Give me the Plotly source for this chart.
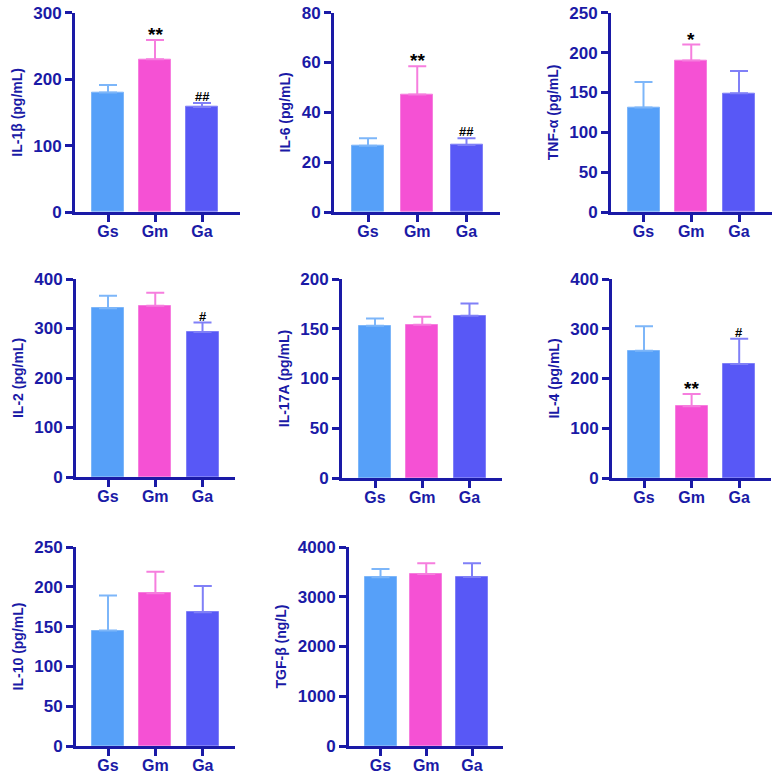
import plotly.graph_objects as go

groups = ["Gs", "Gm", "Ga"]

titles = ["IL-1β (pg/mL)", "IL-6 (pg/mL)", "TNF-α (pg/mL)",
          "IL-2 (pg/mL)", "IL-17A (pg/mL)", "IL-4 (pg/mL)",
          "IL-10 (pg/mL)", "TGF-β (ng/L)"]

means = [[180, 230, 158],
         [26.6, 47.2, 26.9],
         [131, 190, 149],
         [341, 346, 293],
         [153, 154, 163],
         [256, 144, 229],
         [145, 192, 168],
         [3390, 3456, 3395]]

sds = [[11, 29, 6],
       [3.0, 11.3, 2.7],
       [32, 20, 28],
       [25, 26, 19],
       [7.4, 8.0, 12.5],
       [49, 25, 51],
       [44, 27, 33],
       [167, 216, 277]]

ymax = [300, 80, 250, 400, 200, 400, 250, 4000]
ydtick = [100, 20, 50, 100, 50, 100, 50, 1000]

marks = [["", "**", "##"],
         ["", "**", "##"],
         ["", "*", ""],
         ["", "", "#"],
         ["", "", ""],
         ["", "**", "#"],
         ["", "", ""],
         ["", "", ""]]

bar_colors = ["#56A0F9", "#F551D4", "#5858F6"]
err_colors = ["#7DB6F9", "#F67EDE", "#8080F7"]
axis_color = "#1A1AA6"

# layout geometry in pixels: axis x, x-axis end, first bar centre, last bar centre, top px, zero px
geom = [(75, 240, 108, 202, 12.7, 212),
        (334, 500, 368, 466.5, 12.7, 212),
        (611, 772, 643.5, 739, 12.7, 212),
        (76, 235, 108, 202.5, 279, 477),
        (342, 502, 375, 469.5, 279, 478),
        (612, 771, 644, 739.2, 279, 478),
        (76, 235, 108, 202.8, 547, 746),
        (349, 503, 380.5, 472, 547, 746)]

W = H = 778
font_fam = "Liberation Sans"

fig = go.Figure()
layout = dict(width=W, height=H, margin=dict(l=0, r=0, t=0, b=0, autoexpand=False),
              paper_bgcolor="white", plot_bgcolor="white", showlegend=False,
              bargap=0)
annotations = []

for i in range(8):
    ax, ex, c0, c2, ytop, y0 = geom[i]
    sp = (c2 - c0) / 2.0
    xr = [-(c0 - ax) / sp, 2 + (ex - c2) / sp]
    bw = 32.0 / sp
    n = "" if i == 0 else str(i + 1)
    xa = "x" + n
    ya = "y" + n
    for j in range(3):
        fig.add_trace(go.Bar(
            x=[j], y=[means[i][j]], width=[bw], xaxis=xa, yaxis=ya,
            marker=dict(color=bar_colors[j], line=dict(color=err_colors[j], width=1)),
            error_y=dict(type="data", symmetric=False, array=[sds[i][j]], arrayminus=[0],
                         color=err_colors[j], thickness=2, width=9),
            hoverinfo="skip"))
        if marks[i][j]:
            big = "*" in marks[i][j]
            annotations.append(dict(
                x=j, y=means[i][j] + sds[i][j], xref=xa, yref=ya,
                text="<b>" + marks[i][j] + "</b>",
                showarrow=False, yanchor="bottom",
                yshift=-7 if big else -3,
                font=dict(family=font_fam, size=19 if big else 13, color="black")))
    layout["xaxis" + n] = dict(
        domain=[ax / W, ex / W], range=xr, anchor=ya, automargin=False,
        tickmode="array", tickvals=[0, 1, 2], ticktext=groups,
        showline=True, linecolor=axis_color, linewidth=3,
        ticks="outside", ticklen=7, tickwidth=3, tickcolor=axis_color,
        ticklabelstandoff=-4,
        tickfont=dict(family=font_fam, size=16, color=axis_color, weight="bold"),
        showgrid=False, zeroline=False, fixedrange=True)
    layout["yaxis" + n] = dict(
        domain=[1 - y0 / H, 1 - ytop / H], range=[0, ymax[i]], anchor=xa, automargin=False,
        tick0=0, dtick=ydtick[i],
        showline=True, linecolor=axis_color, linewidth=3,
        ticks="outside", ticklen=7, tickwidth=3, tickcolor=axis_color,
        tickfont=dict(family=font_fam, size=17, color=axis_color, weight="bold"),
        title=dict(text=titles[i], standoff=8,
                   font=dict(family=font_fam, size=14, color=axis_color, weight="bold")),
        showgrid=False, zeroline=False, fixedrange=True)

layout["annotations"] = annotations
fig.update_layout(**layout)
fig.write_html("out.html")
